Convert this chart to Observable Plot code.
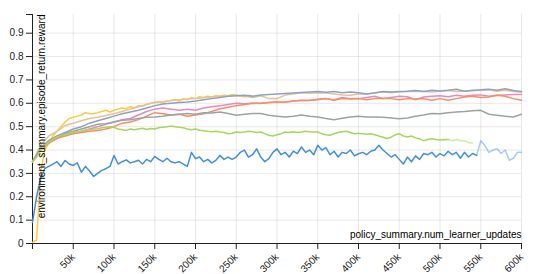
<!DOCTYPE html>
<html><head><meta charset="utf-8">
<script src="https://cdn.jsdelivr.net/npm/d3@7"></script>
<script src="https://cdn.jsdelivr.net/npm/@observablehq/plot@0.6"></script>
<style>body{margin:0;background:#fff}svg{display:block}</style>
</head><body><div id="chart"></div>
<script>
// x step (learner updates) between consecutive values
const FINE_STEP = 5000;
const STEP = 10000;

// blue: 0 .. 545k (5k step)
const blue = [0.09,0.2,0.28,0.32,0.33,0.34,0.35,0.33,0.355,0.34,0.334,0.345,0.305,0.33,0.31,0.287,0.30,0.313,0.32,0.33,
  0.377,0.34,0.35,0.358,0.345,0.35,0.356,0.34,0.36,0.35,0.373,0.36,0.35,0.365,0.35,0.345,0.35,0.34,0.33,0.39,
  0.363,0.37,0.35,0.36,0.345,0.356,0.377,0.36,0.37,0.36,0.37,0.39,0.40,0.37,0.38,0.405,0.37,0.35,0.363,0.39,
  0.405,0.38,0.39,0.37,0.395,0.385,0.413,0.39,0.40,0.38,0.42,0.40,0.41,0.38,0.395,0.37,0.39,0.385,0.40,0.375,
  0.384,0.39,0.38,0.395,0.40,0.42,0.40,0.385,0.37,0.38,0.36,0.34,0.37,0.35,0.375,0.36,0.385,0.38,0.39,0.37,
  0.385,0.375,0.395,0.38,0.39,0.365,0.39,0.37,0.385,0.377];
// blue, faded continuation: 545k .. 600k (5k step)
const blueFaded = [0.377,0.44,0.42,0.39,0.40,0.405,0.385,0.40,0.356,0.365,0.39,0.39];
const blueFadedStart = 545000;

// yellow: 0 .. 270k (5k step)
const yellow = [0.005,0.015,0.3,0.4,0.43,0.46,0.48,0.5,0.52,0.535,0.54,0.545,0.55,0.56,0.555,0.556,0.56,0.565,0.57,0.563,
  0.57,0.575,0.58,0.577,0.585,0.58,0.59,0.587,0.595,0.6,0.605,0.606,0.6,0.61,0.612,0.616,0.61,0.62,0.615,0.625,
  0.62,0.628,0.625,0.63,0.627,0.632,0.63,0.635,0.632,0.637,0.635,0.63,0.628,0.634,0.63];

// green: 0 .. 510k (5k step)
const green = [0.35,0.37,0.40,0.42,0.434,0.445,0.455,0.463,0.465,0.47,0.477,0.477,0.48,0.485,0.487,0.49,0.49,0.495,0.497,0.50,
  0.497,0.49,0.487,0.484,0.49,0.487,0.49,0.493,0.488,0.492,0.49,0.495,0.498,0.50,0.503,0.50,0.497,0.495,0.49,0.487,
  0.49,0.485,0.483,0.48,0.478,0.48,0.477,0.475,0.47,0.472,0.477,0.475,0.477,0.48,0.478,0.475,0.477,0.47,0.463,0.46,
  0.465,0.47,0.477,0.475,0.478,0.475,0.477,0.48,0.478,0.477,0.477,0.47,0.465,0.463,0.47,0.475,0.478,0.48,0.475,0.47,
  0.472,0.47,0.468,0.47,0.465,0.46,0.455,0.449,0.455,0.465,0.47,0.46,0.456,0.46,0.452,0.448,0.44,0.445,0.448,0.445,
  0.443,0.444,0.445];
// green, faded continuation: 510k .. 540k (5k step)
const greenFaded = [0.445,0.44,0.445,0.44,0.44,0.432,0.43];
const greenFadedStart = 510000;

// smoother series: 0 .. 600k (10k step)
const gray = [0.35,0.40,0.44,0.455,0.47,0.48,0.49,0.50,0.51,0.513,0.52,0.527,0.53,0.535,0.54,0.541,0.545,0.55,0.553,0.556,
  0.553,0.56,0.558,0.563,0.556,0.549,0.553,0.556,0.556,0.549,0.545,0.541,0.545,0.55,0.545,0.541,0.535,0.53,0.536,0.541,
  0.545,0.541,0.541,0.54,0.537,0.534,0.537,0.545,0.55,0.556,0.555,0.56,0.563,0.565,0.568,0.57,0.553,0.549,0.545,0.541,0.553];
const red = [0.35,0.40,0.43,0.45,0.46,0.47,0.475,0.48,0.484,0.49,0.50,0.515,0.52,0.53,0.545,0.56,0.555,0.55,0.553,0.545,
  0.55,0.555,0.565,0.577,0.583,0.59,0.595,0.6,0.599,0.603,0.606,0.605,0.61,0.613,0.612,0.617,0.62,0.613,0.62,0.618,
  0.62,0.615,0.62,0.622,0.62,0.615,0.62,0.618,0.62,0.613,0.62,0.613,0.62,0.627,0.63,0.625,0.627,0.634,0.63,0.62,0.613];
const pink = [0.35,0.40,0.43,0.45,0.465,0.475,0.48,0.49,0.50,0.51,0.52,0.53,0.535,0.55,0.565,0.575,0.58,0.575,0.57,0.575,
  0.57,0.58,0.585,0.59,0.595,0.6,0.598,0.6,0.6,0.603,0.605,0.606,0.61,0.612,0.613,0.615,0.62,0.615,0.625,0.62,
  0.62,0.625,0.63,0.62,0.625,0.63,0.628,0.615,0.627,0.63,0.632,0.628,0.634,0.63,0.634,0.636,0.63,0.634,0.636,0.638,0.638];
const periwinkle = [0.35,0.41,0.44,0.46,0.475,0.49,0.50,0.515,0.525,0.535,0.545,0.555,0.563,0.57,0.58,0.59,0.597,0.60,0.603,0.606,
  0.61,0.615,0.62,0.625,0.63,0.632,0.634,0.63,0.635,0.638,0.64,0.642,0.644,0.646,0.648,0.65,0.647,0.65,0.645,0.648,
  0.645,0.64,0.644,0.65,0.648,0.65,0.652,0.655,0.65,0.656,0.653,0.656,0.66,0.652,0.655,0.658,0.66,0.656,0.662,0.655,0.65];
const tan = [0.35,0.42,0.46,0.48,0.505,0.515,0.525,0.535,0.54,0.548,0.555,0.565,0.575,0.585,0.595,0.603,0.607,0.612,0.615,0.618,
  0.62,0.624,0.627,0.63,0.632,0.634,0.63,0.625,0.632,0.62,0.62,0.635,0.64,0.645,0.643,0.645,0.644,0.64,0.636,0.634,
  0.64,0.64,0.645,0.648,0.645,0.648,0.65,0.652,0.65,0.648,0.652,0.655,0.65,0.652,0.656,0.655,0.658,0.652,0.656,0.65,0.647];

const xTicks = [50000,100000,150000,200000,250000,300000,350000,400000,450000,500000,550000,600000];
const yTicks = [0,0.1,0.2,0.3,0.4,0.5,0.6,0.7,0.8,0.9];
const xMax = 600000, yMax = 0.98;

function rows(values, start, step) {
  return values.map((v, i) => ({x: start + i * step, y: v}));
}

const seriesList = [
  {data: rows(yellow, 0, FINE_STEP), color: "#ffcc33", opacity: 1},
  {data: rows(tan, 0, STEP), color: "#e5c494", opacity: 1},
  {data: rows(periwinkle, 0, STEP), color: "#8da0cb", opacity: 1},
  {data: rows(pink, 0, STEP), color: "#e78ac3", opacity: 1},
  {data: rows(red, 0, STEP), color: "#fc8d62", opacity: 1},
  {data: rows(gray, 0, STEP), color: "#9aa59f", opacity: 1},
  {data: rows(green, 0, FINE_STEP), color: "#a6d854", opacity: 1},
  {data: rows(greenFaded, greenFadedStart, FINE_STEP), color: "#a6d854", opacity: 0.5},
  {data: rows(blue, 0, FINE_STEP), color: "#3f8fe6", opacity: 1},
  {data: rows(blueFaded, blueFadedStart, FINE_STEP), color: "#3f8fe6", opacity: 0.45}
];

const chart = Plot.plot({
  width: 533, height: 274,
  marginTop: 14, marginRight: 12, marginBottom: 31, marginLeft: 32,
  style: {fontFamily: "'Liberation Sans', Arial, sans-serif", fontSize: "10px", color: "#222", background: "#fff"},
  x: {domain: [0, xMax], ticks: [0, ...xTicks], tickFormat: d => d === 0 ? "" : d / 1000 + "k", tickRotate: -45, line: true, label: null},
  y: {domain: [0, yMax], ticks: [...yTicks, yMax], tickFormat: d => d === yMax ? "" : d === 0 ? "0" : d.toFixed(1), line: true, label: null},
  marks: [
    Plot.gridX(xTicks),
    Plot.gridY(yTicks),
    ...seriesList.map(s => Plot.line(s.data, {x: "x", y: "y", stroke: s.color, strokeOpacity: s.opacity, strokeWidth: 1.5})),
    Plot.text(["environment_summary.episode_return.reward"], {frameAnchor: "top-left", rotate: -90, textAnchor: "end", lineAnchor: "middle", dx: 9, fill: "#000"}),
    Plot.text(["policy_summary.num_learner_updates"], {frameAnchor: "bottom-right", textAnchor: "end", lineAnchor: "bottom", dy: -6, fill: "#000"})
  ]
});
document.getElementById("chart").appendChild(chart);
</script>
</body></html>
